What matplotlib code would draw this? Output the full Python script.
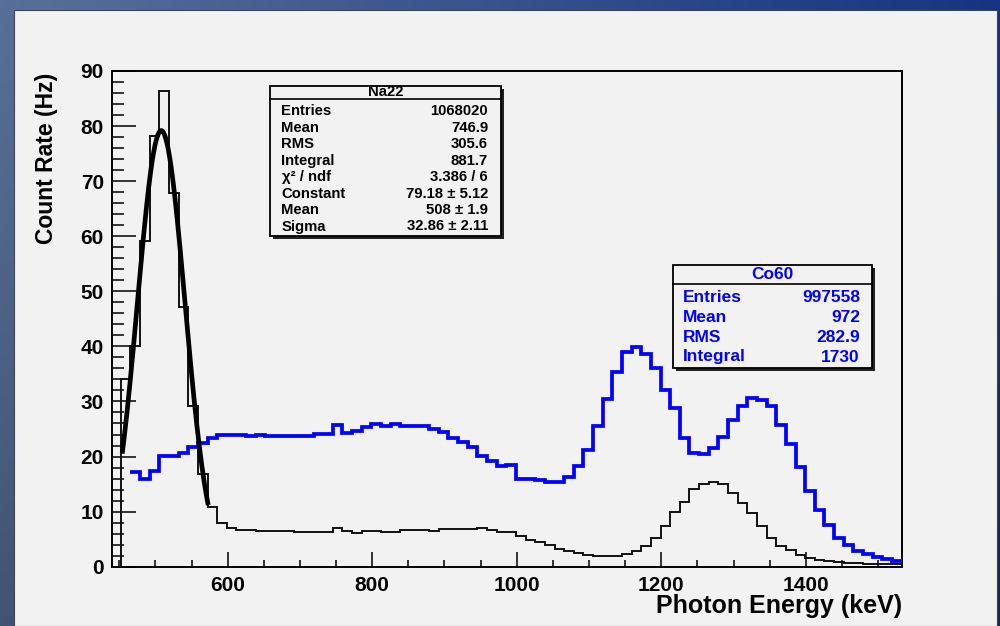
import numpy as np
import matplotlib
matplotlib.use("Agg")
import matplotlib.pyplot as plt
from matplotlib.patches import Rectangle
from matplotlib.ticker import MultipleLocator
from matplotlib import font_manager

# ---------------- data ----------------
bin_lo = 452.0
bin_width = 13.34
n_bins = 81

na22_counts = [34.0, 40.0, 59.1, 78.2, 86.4, 67.8, 47.2, 29.1, 16.8, 10.8,
               8.0, 7.0, 6.7, 6.6, 6.5, 6.45, 6.45, 6.45, 6.25, 6.25,
               6.25, 6.25, 7.1, 6.4, 6.2, 6.5, 6.5, 6.3, 6.3, 6.7,
               6.7, 6.7, 6.5, 6.8, 6.8, 6.8, 6.8, 7.0, 6.65, 6.36,
               6.36, 5.6, 4.85, 4.45, 3.85, 3.3, 2.9, 2.4, 2.1, 1.95,
               1.95, 1.95, 2.25, 2.9, 3.8, 5.2, 7.3, 10.0, 11.8, 14.05,
               15.0, 15.4, 15.0, 13.3, 11.5, 9.7, 7.3, 5.3, 3.75, 3.0,
               2.1, 1.5, 1.2, 1.0, 0.8, 0.6, 0.6, 0.5, 0.45, 0.4, 0.4]

co60_counts = [np.nan, 17.25, 16.0, 17.4, 20.1, 20.1, 20.6, 21.8, 22.4, 23.3,
               24.0, 24.0, 24.0, 23.8, 24.0, 23.8, 23.8, 23.8, 23.8, 23.8,
               24.1, 24.1, 25.7, 24.3, 24.7, 25.4, 25.85, 25.6, 25.85, 25.6,
               25.6, 25.6, 25.0, 24.4, 23.3, 22.6, 21.7, 20.1, 19.2, 18.2,
               18.5, 16.0, 16.0, 15.8, 15.3, 15.3, 16.3, 18.2, 21.1, 25.6,
               30.4, 35.3, 38.9, 39.8, 38.6, 36.0, 32.1, 28.75, 23.3, 20.7,
               20.4, 21.5, 23.5, 26.6, 29.2, 30.6, 30.3, 29.2, 25.7, 22.2,
               18.05, 13.8, 10.3, 7.6, 5.3, 3.9, 2.9, 2.3, 1.7, 1.4, 1.1]

fit_constant = 79.18
fit_mean = 508.0
fit_sigma = 32.86
fit_range = (454.0, 573.0)

x_ticks = [600, 800, 1000, 1200, 1400]
y_ticks = [0, 10, 20, 30, 40, 50, 60, 70, 80, 90]

na22_labels = ["Entries", "Mean", "RMS", "Integral", "\u03c7\u00b2 / ndf",
               "Constant", "Mean", "Sigma"]
na22_values = ["1068020", "746.9", "305.6", "881.7", "3.386 / 6",
               "79.18 \u00b1 5.12", "508 \u00b1 1.9", "32.86 \u00b1 2.11"]
co60_labels = ["Entries", "Mean", "RMS", "Integral"]
co60_values = ["997558", "972", "282.9", "1730"]

# ---------------- style ----------------
names = {f.name for f in font_manager.fontManager.ttflist}
FONT = "Liberation Sans" if "Liberation Sans" in names else "DejaVu Sans"
plt.rcParams["font.family"] = [FONT, "DejaVu Sans"]

W, H = 1000, 626
fig = plt.figure(figsize=(W / 100, H / 100), dpi=100)

def fx(px):
    return px / W

def fy(py):
    return 1 - py / H

# background gradient (slide) + ROOT canvas
ax_bg = fig.add_axes([0, 0, 1, 1], zorder=-10)
ny, nx = 60, 200
tx = np.linspace(0, 1, nx)[None, :, None]
ty = np.linspace(0, 1, ny)[:, None, None]
left_c = np.array([88, 112, 152]) / 255
right_c = np.array([22, 52, 130]) / 255
grad = left_c * (1 - tx) + right_c * tx
grad = grad * (1 - 0.25 * ty)
ax_bg.imshow(np.clip(grad, 0, 1), extent=[0, 1, 0, 1], aspect="auto",
             origin="upper")
ax_bg.add_patch(Rectangle((fx(14), 0), fx(997) - fx(14), fy(10),
                          transform=ax_bg.transAxes, facecolor="#f2f2f2",
                          edgecolor="#444444", lw=0.8))
ax_bg.set_xlim(0, 1)
ax_bg.set_ylim(0, 1)
ax_bg.axis("off")

# main axes
ax = fig.add_axes([fx(112.3), fy(566.7), fx(901.6) - fx(112.3),
                   fy(71) - fy(566.7)])
ax.set_facecolor("#f2f2f2")

edges = bin_lo + bin_width * np.arange(n_bins + 1)
ax.stairs(np.array(na22_counts), edges, baseline=0, fill=False,
          color="#111111", lw=1.4, zorder=3)
ax.stairs(np.array(co60_counts), edges, baseline=None, fill=False,
          color="#0000ff", lw=2.7, zorder=4)

xf = np.linspace(fit_range[0], fit_range[1], 300)
yf = fit_constant * np.exp(-0.5 * ((xf - fit_mean) / fit_sigma) ** 2)
ax.plot(xf, yf, color="black", lw=3.4, zorder=5, solid_capstyle="butt")

ax.set_xlim(440.3, 1532.6)
ax.set_ylim(0, 90)
ax.set_xticks(x_ticks)
ax.set_yticks(y_ticks)
ax.xaxis.set_minor_locator(MultipleLocator(50))
ax.yaxis.set_minor_locator(MultipleLocator(2))
ax.tick_params(axis="x", which="major", direction="in", length=10.8,
               width=1.1, pad=7, labelsize=15)
ax.tick_params(axis="x", which="minor", direction="in", length=5.3, width=1.1)
ax.tick_params(axis="y", which="major", direction="in", length=17,
               width=1.1, pad=6, labelsize=15)
ax.tick_params(axis="y", which="minor", direction="in", length=8.6, width=1.1)
for lab in ax.get_xticklabels() + ax.get_yticklabels():
    lab.set_fontweight("bold")
for s in ax.spines.values():
    s.set_linewidth(1.4)
    s.set_color("black")

fig.text(fx(47), fy(73), "Count Rate (Hz)", rotation=90, ha="center",
         va="top", fontsize=16.5, fontweight="bold")
fig.text(fx(902), fy(606), "Photon Energy (keV)", ha="right", va="center",
         fontsize=18, fontweight="bold")

# stats boxes
def stats_box(x0, x1, y0, y1, ysep, title, labels, values, ystart, dy,
              xl, xr, color, size):
    sh = 3
    fig.add_artist(Rectangle((fx(x0 + sh), fy(y1 + sh)), fx(x1) - fx(x0),
                             fy(y0) - fy(y1), transform=fig.transFigure,
                             facecolor="#222222", edgecolor="none",
                             zorder=20))
    fig.add_artist(Rectangle((fx(x0), fy(y1)), fx(x1) - fx(x0),
                             fy(y0) - fy(y1), transform=fig.transFigure,
                             facecolor="#f2f2f2", edgecolor="black",
                             lw=1.3, zorder=21))
    fig.add_artist(plt.Line2D([fx(x0), fx(x1)], [fy(ysep), fy(ysep)],
                              transform=fig.transFigure, color="black",
                              lw=1.2, zorder=22))
    fig.text(fx((x0 + x1) / 2), fy((y0 + ysep) / 2), title, ha="center",
             va="center", fontsize=size, fontweight="bold", color=color,
             zorder=23)
    for i, (l, v) in enumerate(zip(labels, values)):
        yy = fy(ystart + dy * i)
        fig.text(fx(xl), yy, l, ha="left", va="center", fontsize=size,
                 fontweight="bold", color=color, zorder=23)
        fig.text(fx(xr), yy, v, ha="right", va="center", fontsize=size,
                 fontweight="bold", color=color, zorder=23)

stats_box(270, 500.7, 86, 235.7, 98.5, "Na22", na22_labels, na22_values,
          111, 16.5, 281.5, 488, "black", 10.7)
stats_box(672.7, 871.7, 265, 368.3, 284, "Co60", co60_labels, co60_values,
          297, 20, 682.7, 860, "#0000ff", 12.5)

fig.savefig("out.png", dpi=100, facecolor=fig.get_facecolor())
